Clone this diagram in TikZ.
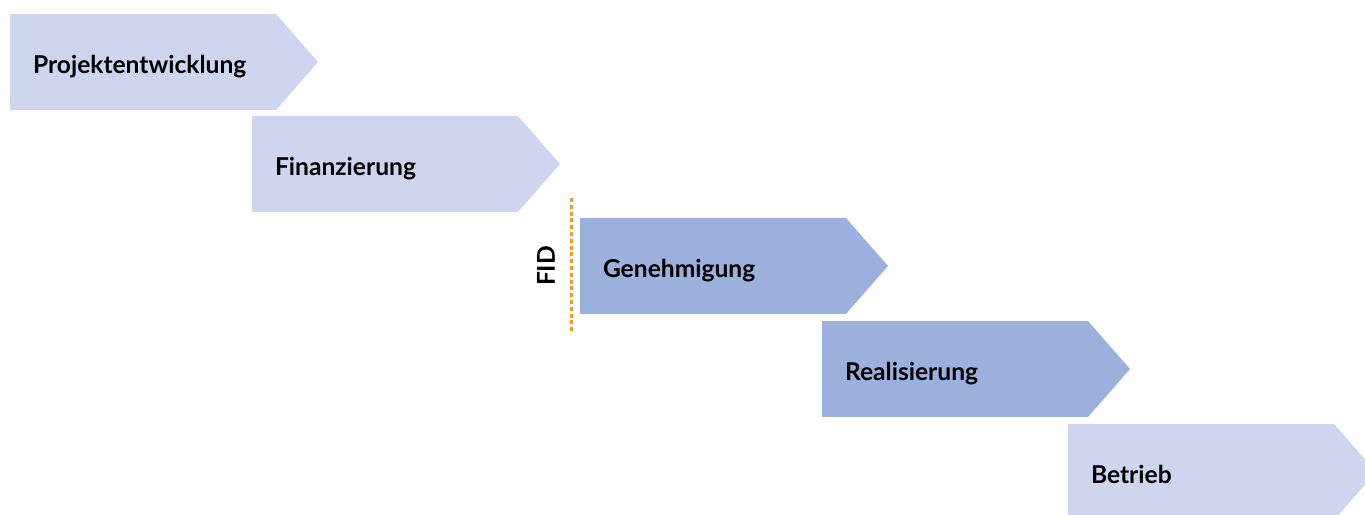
\documentclass[tikz,border=0pt]{standalone}
\usepackage{fontspec}
\setmainfont{Lato}
\usepackage{tikz}
\usetikzlibrary{calc}
\definecolor{phaseLight}{HTML}{CED6EF}
\definecolor{phaseDark}{HTML}{9CB0DD}
\definecolor{fidOrange}{HTML}{F39A1A}

\begin{document}
\begin{tikzpicture}[x=0.5pt, y=-0.5pt, font=\bfseries\fontsize{12.3}{15}\selectfont,
  phase/.style={anchor=north west, minimum width=133pt, minimum height=48pt,
    text width=110pt, text height=11.5pt, text depth=0.5pt,
    inner xsep=11.5pt, inner ysep=0pt, align=left, outer sep=0pt}]
\useasboundingbox (0,0) rectangle (1365,514);
% the five phases
\node[phase, fill=phaseLight] (PE) at (10,14)   {Projektentwicklung};
\node[phase, fill=phaseLight] (FI) at (252,116) {Finanzierung};
\node[phase, fill=phaseDark]  (GE) at (580,218) {Genehmigung};
\node[phase, fill=phaseDark]  (RE) at (822,321) {Realisierung};
\node[phase, fill=phaseLight] (BE) at (1068,424) {Betrieb};
% arrow tips
\foreach \n/\c in {PE/phaseLight, FI/phaseLight, GE/phaseDark, RE/phaseDark, BE/phaseLight}
  \fill[\c] (\n.north east) -- ($(\n.east)+(42,0)$) -- (\n.south east) -- cycle;
% final investment decision
\coordinate (fidTop) at (571,198);
\coordinate (fidBot) at (571,334);
\draw[fidOrange, line width=1.5pt, dash pattern=on 2pt off 1.4pt] (fidTop) -- (fidBot);
\node[rotate=90] (FID) at (546,266) {FID};
\end{tikzpicture}
\end{document}
